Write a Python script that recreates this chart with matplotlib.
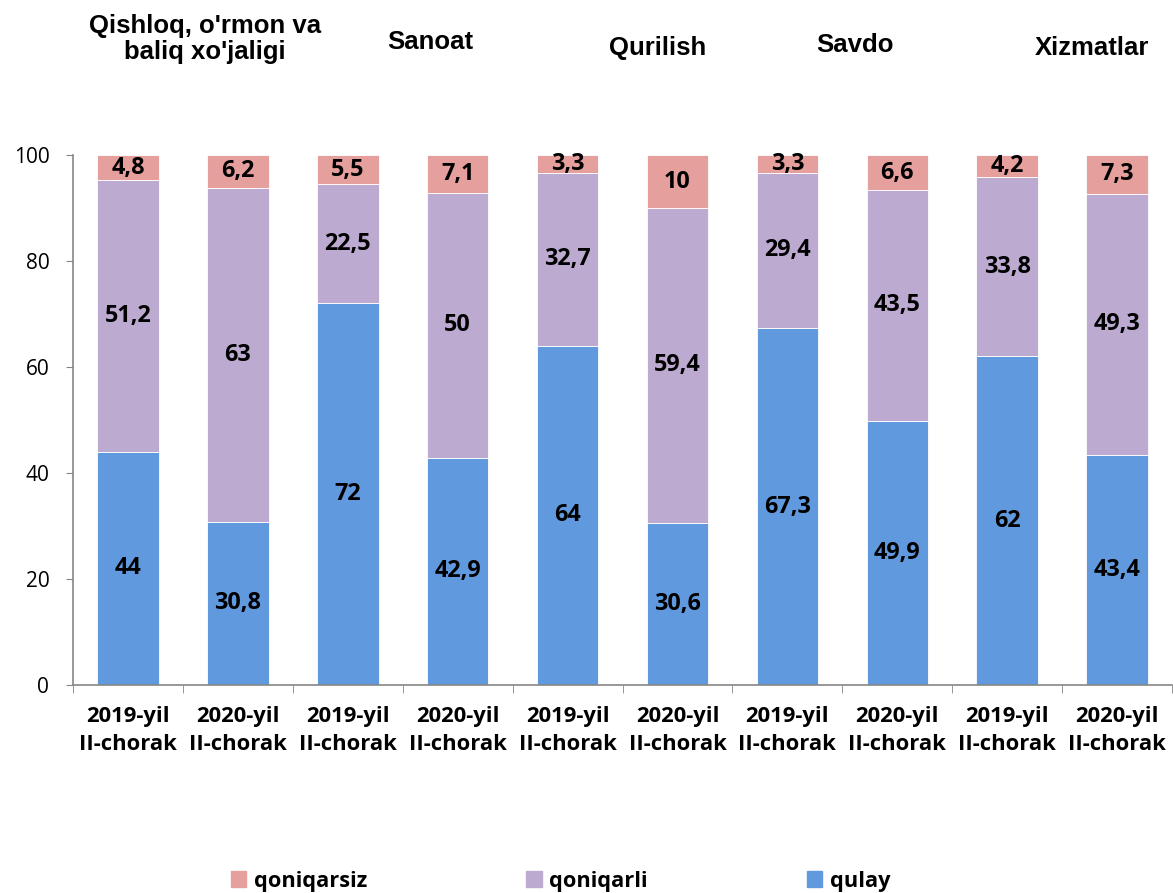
import numpy as np
import matplotlib.pyplot as plt
from matplotlib.patches import Patch

# Sectors and periods
sectors = ["Qishloq, o'rmon va\nbaliq xo'jaligi", "Sanoat", "Qurilish", "Savdo", "Xizmatlar"]
periods = ["2019-yil\nII-chorak", "2020-yil\nII-chorak"] * 5

# Shares (%) for each bar
qulay = [44, 30.8, 72, 42.9, 64, 30.6, 67.3, 49.9, 62, 43.4]
qoniqarli = [51.2, 63, 22.5, 50, 32.7, 59.4, 29.4, 43.5, 33.8, 49.3]
qoniqarsiz = [4.8, 6.2, 5.5, 7.1, 3.3, 10, 3.3, 6.6, 4.2, 7.3]

c_qulay = '#6199DE'
c_qoniqarli = '#BCAAD1'
c_qoniqarsiz = '#E5A09E'

label_font = 'Open Sans'
title_font = 'Liberation Sans'

fig = plt.figure(figsize=(11.73, 8.93), dpi=100)
ax = fig.add_axes([0.0622, 0.2329, 0.9370, 0.5935])

x = np.arange(len(qulay))
w = 0.56
b1 = ax.bar(x, qulay, w, color=c_qulay, edgecolor='white', linewidth=0.6)
b2 = ax.bar(x, qoniqarli, w, bottom=qulay, color=c_qoniqarli, edgecolor='white', linewidth=0.6)
bottom3 = np.array(qulay) + np.array(qoniqarli)
b3 = ax.bar(x, qoniqarsiz, w, bottom=bottom3, color=c_qoniqarsiz, edgecolor='white', linewidth=0.6)

def fmt(v):
    return f'{v:g}'.replace('.', ',')

for bars, vals in [(b1, qulay), (b2, qoniqarli), (b3, qoniqarsiz)]:
    ax.bar_label(bars, labels=[fmt(v) for v in vals], label_type='center',
                 fontsize=16.8, fontweight='bold', family=label_font, color='black')

ax.set_xlim(-0.5, 9.5)
ax.set_ylim(0, 100)
ax.set_yticks([0, 20, 40, 60, 80, 100])
ax.tick_params(axis='y', labelsize=15, length=5, color='#868686', pad=12)
for t in ax.get_yticklabels():
    t.set_family(label_font)

ax.set_xticks(x)
ax.set_xticklabels(periods, fontsize=15.8, fontweight='bold', family=label_font, linespacing=1.42)
ax.tick_params(axis='x', length=0, pad=15)
ax.set_xticks(np.arange(-0.5, 10, 1), minor=True)
ax.tick_params(axis='x', which='minor', length=6, color='#868686')

for s in ['top', 'right']:
    ax.spines[s].set_visible(False)
for s in ['left', 'bottom']:
    ax.spines[s].set_color('#868686')
    ax.spines[s].set_linewidth(1.2)

# Sector titles above the bars
title_x = [205, 430, 658, 855, 1092]
title_y = [39, 42, 48, 45, 48]
for name, tx, ty in zip(sectors, title_x, title_y):
    fig.text(tx / 1173, 1 - ty / 893, name, ha='center', va='center',
             fontsize=18.5, fontweight='bold', family=title_font, linespacing=1.1)

handles = [Patch(color=c_qoniqarsiz), Patch(color=c_qoniqarli), Patch(color=c_qulay)]
fig.legend(handles, ['qoniqarsiz', 'qoniqarli', 'qulay'], loc='center',
           bbox_to_anchor=(0.478, 1 - 881 / 893), ncol=3, frameon=False,
           prop={'family': label_font, 'weight': 'bold', 'size': 15.7},
           handlelength=0.7, handleheight=0.7, handletextpad=0.35, columnspacing=7.3)

fig.savefig('out.png', dpi=100)
